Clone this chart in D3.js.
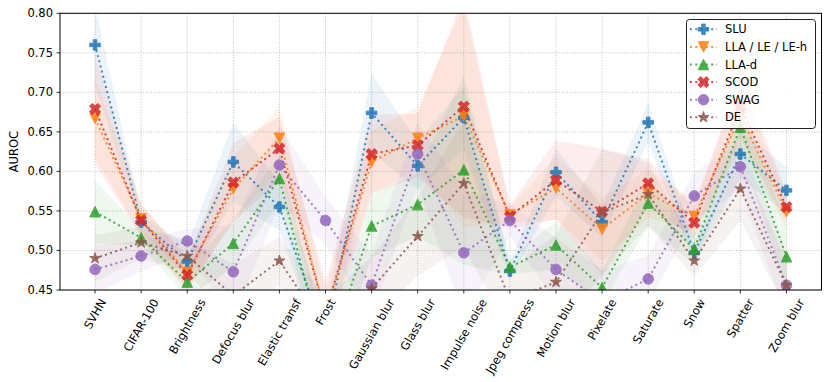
<!DOCTYPE html>
<html>
<head>
<meta charset="utf-8">
<script src="https://cdn.jsdelivr.net/npm/d3@7"></script>
<style>
  body { margin: 0; background: #fff; }
  svg { display: block; font-family: "DejaVu Sans", sans-serif; }
</style>
</head>
<body>
<div id="chart"></div>
<script>
// ---- data ----
const categories = ["SVHN", "CIFAR-100", "Brightness", "Defocus blur", "Elastic transf", "Frost",
  "Gaussian blur", "Glass blur", "Impulse noise", "Jpeg compress", "Motion blur", "Pixelate",
  "Saturate", "Snow", "Spatter", "Zoom blur"];

const seriesNames = ["SLU", "LLA / LE / LE-h", "LLA-d", "SCOD", "SWAG", "DE"];

const sluMean  = [0.760, 0.536, 0.486, 0.612, 0.555, 0.390, 0.674, 0.607, 0.668, 0.474, 0.599, 0.536, 0.662, 0.497, 0.622, 0.576];
const llaMean  = [0.667, 0.540, 0.472, 0.578, 0.642, 0.420, 0.612, 0.642, 0.670, 0.545, 0.579, 0.527, 0.572, 0.543, 0.670, 0.549];
const llaDMean = [0.549, 0.516, 0.460, 0.509, 0.591, 0.360, 0.531, 0.558, 0.602, 0.479, 0.507, 0.453, 0.560, 0.502, 0.656, 0.492];
const scodMean = [0.679, 0.538, 0.469, 0.586, 0.629, 0.420, 0.622, 0.633, 0.682, 0.543, 0.589, 0.549, 0.585, 0.535, 0.682, 0.555];
const swagMean = [0.476, 0.493, 0.512, 0.473, 0.608, 0.538, 0.456, 0.622, 0.497, 0.538, 0.476, 0.435, 0.464, 0.569, 0.606, 0.456];
const deMean   = [0.490, 0.510, 0.493, 0.443, 0.487, 0.400, 0.452, 0.518, 0.585, 0.437, 0.460, 0.548, 0.571, 0.487, 0.578, 0.456];

const sluStd  = [0.050, 0.010, 0.020, 0.050, 0.030, 0.030, 0.050, 0.030, 0.040, 0.010, 0.030, 0.020, 0.025, 0.015, 0.030, 0.030];
const llaStd  = [0.050, 0.020, 0.020, 0.040, 0.040, 0.030, 0.040, 0.040, 0.140, 0.010, 0.040, 0.040, 0.030, 0.020, 0.040, 0.020];
const llaDStd = [0.040, 0.010, 0.020, 0.030, 0.030, 0.030, 0.040, 0.040, 0.120, 0.010, 0.030, 0.020, 0.030, 0.020, 0.030, 0.040];
const scodStd = [0.070, 0.020, 0.020, 0.050, 0.040, 0.040, 0.050, 0.040, 0.140, 0.015, 0.050, 0.080, 0.030, 0.020, 0.040, 0.020];
const swagStd = [0.030, 0.020, 0.015, 0.060, 0.050, 0.030, 0.040, 0.040, 0.080, 0.020, 0.040, 0.040, 0.030, 0.030, 0.030, 0.040];
const deStd   = [0.030, 0.020, 0.020, 0.040, 0.030, 0.040, 0.040, 0.050, 0.080, 0.040, 0.060, 0.080, 0.040, 0.020, 0.040, 0.030];

const yTicks = [0.45, 0.50, 0.55, 0.60, 0.65, 0.70, 0.75, 0.80];

const colors  = ["#1f77b4", "#ff7f0e", "#2ca02c", "#d62728", "#9467bd", "#8c564b"];
const markers = ["plus", "tridown", "triup", "x", "circle", "star"];

const series = seriesNames.map((name, i) => ({
  name,
  mean: [sluMean, llaMean, llaDMean, scodMean, swagMean, deMean][i],
  std: [sluStd, llaStd, llaDStd, scodStd, swagStd, deStd][i],
  color: colors[i],
  marker: markers[i]
}));

// ---- layout ----
const W = 830, H = 382;
const plot = { left: 60, right: 821.5, top: 13.3, bottom: 290 };
const fontSize = 11.5;
const mSize = 10.5;

const svg = d3.select("#chart").append("svg").attr("width", W).attr("height", H);

const x = d3.scalePoint().domain(categories).range([plot.left, plot.right]).padding(0.76);
const y = d3.scaleLinear().domain([0.45, 0.80]).range([plot.bottom, plot.top]);

svg.append("defs").append("clipPath").attr("id", "plot-clip")
  .append("rect")
  .attr("x", plot.left).attr("y", plot.top)
  .attr("width", plot.right - plot.left).attr("height", plot.bottom - plot.top);

// grid
const grid = svg.append("g");
categories.forEach(c => {
  grid.append("line")
    .attr("x1", x(c)).attr("x2", x(c)).attr("y1", plot.top).attr("y2", plot.bottom)
    .attr("stroke", "#b0b0b0").attr("stroke-width", 0.8).attr("stroke-dasharray", "1,1.6");
});
yTicks.forEach(t => {
  grid.append("line")
    .attr("x1", plot.left).attr("x2", plot.right).attr("y1", y(t)).attr("y2", y(t))
    .attr("stroke", "#b0b0b0").attr("stroke-width", 0.8).attr("stroke-dasharray", "1,1.6");
});

// marker shapes (matplotlib-like)
function markerPath(kind, s) {
  const h = s / 2;
  if (kind === "circle") {
    return d3.symbol(d3.symbolCircle, Math.PI * h * h)();
  }
  if (kind === "triup") return `M0,${-h}L${h},${h}L${-h},${h}Z`;
  if (kind === "tridown") return `M0,${h}L${h},${-h}L${-h},${-h}Z`;
  if (kind === "plus" || kind === "x") {
    const pts = [[-1, -3], [1, -3], [1, -1], [3, -1], [3, 1], [1, 1], [1, 3], [-1, 3], [-1, 1], [-3, 1], [-3, -1], [-1, -1]]
      .map(([a, b]) => [a * s / 6, b * s / 6]);
    const rot = kind === "x" ? Math.PI / 4 : 0;
    const k = kind === "x" ? 1.12 : 1;
    return "M" + pts.map(([a, b]) => [
      (a * Math.cos(rot) - b * Math.sin(rot)) * k,
      (a * Math.sin(rot) + b * Math.cos(rot)) * k
    ].join(",")).join("L") + "Z";
  }
  if (kind === "star") {
    const pts = [];
    for (let i = 0; i < 10; i++) {
      const r = i % 2 === 0 ? h * 1.1 : h * 1.1 * 0.381966;
      const a = -Math.PI / 2 + i * Math.PI / 5;
      pts.push([r * Math.cos(a), r * Math.sin(a)]);
    }
    return "M" + pts.map(p => p.join(",")).join("L") + "Z";
  }
}

const body = svg.append("g").attr("clip-path", "url(#plot-clip)");

// std bands
const area = d3.area()
  .x((d, i) => x(categories[i]))
  .y0(d => y(d[0] - d[1]))
  .y1(d => y(d[0] + d[1]));

series.forEach(s => {
  body.append("path")
    .datum(s.mean.map((m, i) => [m, s.std[i]]))
    .attr("d", area)
    .attr("fill", s.color)
    .attr("fill-opacity", 0.08);
});

// lines and markers
const line = d3.line().x((d, i) => x(categories[i])).y(d => y(d));

series.forEach(s => {
  body.append("path")
    .datum(s.mean)
    .attr("d", line)
    .attr("fill", "none")
    .attr("stroke", s.color)
    .attr("stroke-width", 2)
    .attr("stroke-dasharray", "2,3.3")
    .attr("opacity", 0.85);

  body.selectAll(null)
    .data(s.mean)
    .join("path")
    .attr("transform", (d, i) => `translate(${x(categories[i])},${y(d)})`)
    .attr("d", markerPath(s.marker, mSize))
    .attr("fill", s.color)
    .attr("stroke", s.color)
    .attr("stroke-width", 1)
    .attr("opacity", 0.85);
});

// frame
svg.append("rect")
  .attr("x", plot.left).attr("y", plot.top)
  .attr("width", plot.right - plot.left).attr("height", plot.bottom - plot.top)
  .attr("fill", "none").attr("stroke", "#000").attr("stroke-width", 1);

// y axis ticks + labels
yTicks.forEach(t => {
  svg.append("line")
    .attr("x1", plot.left - 3.5).attr("x2", plot.left).attr("y1", y(t)).attr("y2", y(t))
    .attr("stroke", "#000").attr("stroke-width", 0.8);
  svg.append("text")
    .attr("x", plot.left - 7).attr("y", y(t))
    .attr("dy", "0.35em").attr("text-anchor", "end")
    .attr("font-size", fontSize).attr("fill", "#000")
    .text(t.toFixed(2));
});

svg.append("text")
  .attr("transform", `translate(14,${(plot.top + plot.bottom) / 2}) rotate(-90)`)
  .attr("text-anchor", "middle").attr("dy", "0.35em")
  .attr("font-size", fontSize).attr("fill", "#000")
  .text("AUROC");

// x axis ticks + rotated labels (centred bbox like matplotlib)
const ang = 60 * Math.PI / 180;
categories.forEach(c => {
  svg.append("line")
    .attr("x1", x(c)).attr("x2", x(c)).attr("y1", plot.bottom).attr("y2", plot.bottom + 3.5)
    .attr("stroke", "#000").attr("stroke-width", 0.8);
  const t = svg.append("text")
    .attr("text-anchor", "middle").attr("dominant-baseline", "central")
    .attr("font-size", fontSize).attr("fill", "#000")
    .text(c);
  const w = t.node().getComputedTextLength();
  const bh = w * Math.sin(ang) + fontSize * Math.cos(ang);
  t.attr("transform", `translate(${x(c)},${plot.bottom + 7 + bh / 2}) rotate(-60)`);
});

// legend
const legend = svg.append("g");
legend.append("rect")
  .attr("x", 686.5).attr("y", 19.5).attr("width", 129).attr("height", 109).attr("rx", 3)
  .attr("fill", "#fff").attr("fill-opacity", 0.85)
  .attr("stroke", "#222").attr("stroke-width", 1);
series.forEach((s, i) => {
  const ly = 29.3 + i * 17.6;
  legend.append("line")
    .attr("x1", 690).attr("x2", 717).attr("y1", ly).attr("y2", ly)
    .attr("stroke", s.color).attr("stroke-width", 2).attr("stroke-dasharray", "2,3.3")
    .attr("opacity", 0.85);
  legend.append("path")
    .attr("transform", `translate(703.5,${ly})`)
    .attr("d", markerPath(s.marker, mSize))
    .attr("fill", s.color).attr("stroke", s.color).attr("stroke-width", 1)
    .attr("opacity", 0.85);
  legend.append("text")
    .attr("x", 725).attr("y", ly).attr("dy", "0.35em")
    .attr("font-size", fontSize).attr("fill", "#000")
    .text(s.name);
});
</script>
</body>
</html>
